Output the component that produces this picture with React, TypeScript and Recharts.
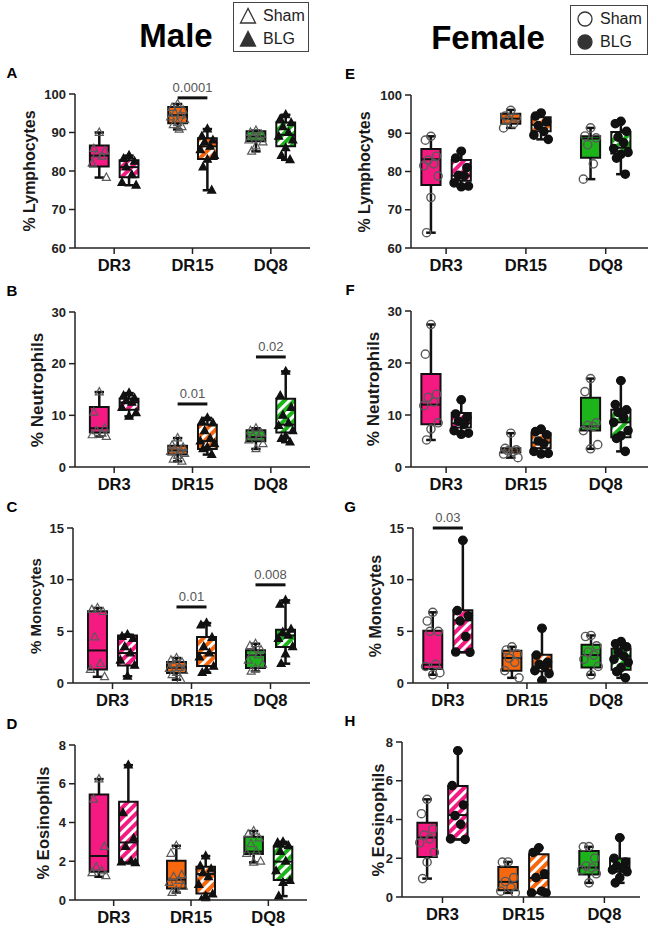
import React from 'react';
import { ComposedChart, XAxis, YAxis, Scatter, ReferenceArea, ReferenceLine } from 'recharts';

const genotypes = ['DR3', 'DR15', 'DQ8'];
const genotypeColors = ['#F41A82', '#F7680E', '#1DB41B'];

// box stats are [min, q1, median, q3, max]
// group order: DR3 Sham, DR3 BLG, DR15 Sham, DR15 BLG, DQ8 Sham, DQ8 BLG

// A - male lymphocytes
const lymphMaleBox = [
  [78.3, 81.2, 84.0, 86.6, 90.0],
  [76.3, 78.4, 81.0, 82.8, 84.0],
  [90.8, 92.4, 94.5, 96.6, 97.4],
  [75.0, 83.1, 86.4, 88.5, 90.9],
  [85.1, 87.7, 89.0, 90.3, 90.5],
  [82.9, 86.4, 89.4, 92.6, 94.6],
];
const lymphMalePts = [
  [90.0, 85.8, 85.2, 84.3, 83.8, 82.0, 78.3],
  [84.0, 83.2, 82.5, 81.0, 79.0, 77.0, 76.3],
  [97.4, 96.5, 95.8, 95.0, 94.5, 94.0, 93.3, 92.5, 92.0, 91.5, 90.8],
  [90.9, 89.0, 88.0, 87.5, 86.4, 85.5, 84.0, 83.0, 81.0, 75.0],
  [90.5, 90.0, 89.5, 89.0, 88.8, 88.0, 87.5, 86.5, 85.1],
  [94.6, 93.5, 92.5, 91.5, 90.0, 89.0, 88.0, 86.0, 84.0, 82.9],
];
const lymphMaleSig = [{ genotype: 1, y: 99, label: '0.0001' }];

// B - male neutrophils
const neutroMaleBox = [
  [5.9, 6.7, 7.5, 11.6, 14.5],
  [9.8, 11.1, 12.5, 13.2, 14.3],
  [1.1, 2.4, 3.2, 4.1, 5.6],
  [2.4, 3.5, 5.0, 8.2, 9.5],
  [3.5, 5.0, 5.8, 7.1, 7.5],
  [4.8, 6.7, 8.2, 13.2, 18.5],
];
const neutroMalePts = [
  [14.5, 10.6, 7.5, 7.0, 6.5, 6.2, 5.9],
  [14.3, 13.8, 13.3, 12.8, 12.5, 11.5, 10.5, 9.8],
  [5.6, 4.2, 3.8, 3.5, 3.2, 3.0, 2.6, 2.2, 1.5, 1.1],
  [9.5, 8.8, 8.5, 7.0, 5.5, 5.0, 4.5, 3.8, 3.5, 2.4],
  [7.5, 7.0, 6.5, 6.0, 5.8, 5.2, 4.5, 3.5],
  [18.5, 13.8, 11.5, 10.0, 8.5, 8.0, 7.0, 6.0, 5.5, 4.8],
];
const neutroMaleSig = [
  { genotype: 1, y: 12.2, label: '0.01' },
  { genotype: 2, y: 21.3, label: '0.02' },
];

// C - male monocytes
const monoMaleBox = [
  [0.6, 1.3, 3.15, 6.95, 7.26],
  [0.65, 1.7, 2.9, 4.6, 4.68],
  [0.32, 0.97, 1.48, 2.03, 2.42],
  [1.0, 1.65, 2.9, 4.45, 5.8],
  [1.13, 1.45, 2.7, 3.16, 3.8],
  [1.87, 3.48, 4.6, 5.16, 8.0],
];
const monoMalePts = [
  [7.26, 7.1, 6.9, 4.45, 1.87, 1.3, 0.6],
  [4.68, 4.5, 4.3, 3.5, 2.9, 2.2, 1.7, 0.65],
  [2.42, 2.2, 2.0, 1.8, 1.5, 1.4, 1.2, 1.0, 0.8, 0.32],
  [5.8, 5.6, 4.4, 3.5, 2.9, 2.5, 1.6, 1.2, 1.0],
  [3.8, 3.6, 3.2, 3.0, 2.7, 2.2, 1.8, 1.4, 1.13],
  [8.0, 7.6, 5.2, 4.9, 4.6, 4.3, 3.5, 2.8, 1.87],
];
const monoMaleSig = [
  { genotype: 1, y: 7.36, label: '0.01' },
  { genotype: 2, y: 9.5, label: '0.008' },
];

// D - male eosinophils
const eosMaleBox = [
  [1.2, 1.46, 2.27, 5.45, 6.24],
  [1.92, 1.92, 2.97, 5.07, 6.96],
  [0.38, 0.6, 1.05, 2.03, 2.8],
  [0.0, 0.34, 1.34, 1.72, 2.27],
  [1.94, 2.37, 2.5, 3.26, 3.56],
  [0.2, 1.03, 1.98, 2.75, 3.0],
];
const eosMalePts = [
  [6.24, 5.2, 2.75, 1.7, 1.5, 1.4, 1.25],
  [6.96, 4.5, 3.18, 2.75, 2.0, 1.95, 1.92],
  [2.8, 2.4, 1.3, 1.2, 1.0, 0.9, 0.7, 0.5, 0.38],
  [2.27, 1.75, 1.6, 1.4, 1.2, 0.8, 0.3, 0.2, 0.0],
  [3.56, 3.4, 3.2, 2.9, 2.5, 2.4, 2.0, 1.94],
  [3.0, 2.95, 2.8, 2.5, 2.0, 1.5, 1.0, 0.9, 0.2],
];

// E - female lymphocytes
const lymphFemaleBox = [
  [64.0, 76.5, 83.2, 85.9, 89.2],
  [76.0, 77.6, 78.9, 83.0, 85.3],
  [91.4, 92.5, 93.8, 95.1, 96.1],
  [88.4, 90.5, 92.2, 94.2, 95.3],
  [78.0, 83.6, 88.6, 89.2, 91.4],
  [79.3, 84.7, 86.2, 90.3, 93.1],
];
const lymphFemalePts = [
  [89.2, 88.2, 84.0, 83.0, 82.0, 81.5, 78.8, 73.2, 64.0],
  [85.3, 83.5, 81.0, 79.0, 78.9, 77.0, 76.2, 76.0],
  [96.0, 94.5, 94.0, 93.5, 92.5, 91.4],
  [95.3, 94.5, 93.0, 92.0, 90.5, 89.5, 88.4],
  [91.4, 89.3, 88.8, 87.0, 82.0, 78.0],
  [93.1, 92.5, 90.5, 89.0, 87.5, 86.0, 85.0, 84.5, 83.5, 79.3],
];

// F - female neutrophils
const neutroFemaleBox = [
  [5.2, 8.2, 12.0, 17.9, 27.4],
  [6.3, 7.6, 8.4, 10.4, 12.9],
  [1.8, 2.8, 3.2, 3.6, 6.5],
  [2.5, 3.6, 4.7, 6.5, 7.3],
  [3.5, 7.0, 7.8, 13.3, 17.0],
  [3.0, 5.7, 8.6, 11.0, 16.6],
];
const neutroFemalePts = [
  [27.4, 21.7, 14.0, 13.4, 12.5, 11.8, 8.5, 7.3, 5.2],
  [12.9, 10.2, 9.5, 8.8, 8.2, 7.0, 6.5, 6.3],
  [6.5, 3.6, 3.3, 3.1, 3.0, 2.5, 1.8],
  [7.3, 6.8, 6.2, 5.0, 4.5, 3.0, 2.6, 2.5],
  [17.0, 14.5, 8.5, 8.0, 7.8, 7.0, 4.3, 3.5],
  [16.6, 12.0, 11.0, 10.5, 9.5, 8.6, 7.0, 6.0, 5.5, 3.0],
];

// G - female monocytes
const monoFemaleBox = [
  [0.8, 1.35, 1.77, 5.06, 6.84],
  [2.97, 2.97, 6.06, 7.03, 13.8],
  [0.5, 1.19, 2.42, 3.13, 3.5],
  [0.26, 1.13, 1.6, 2.74, 5.3],
  [0.8, 1.5, 2.7, 3.7, 4.6],
  [0.5, 1.29, 2.6, 3.32, 4.0],
];
const monoFemalePts = [
  [6.84, 6.0, 5.0, 5.0, 1.8, 1.6, 1.0, 0.8],
  [13.8, 7.0, 6.5, 6.0, 4.5, 3.0, 2.97],
  [3.5, 3.2, 2.8, 2.4, 2.0, 1.2, 0.5],
  [5.3, 2.7, 2.0, 1.8, 1.6, 1.2, 0.9, 0.26],
  [4.6, 4.5, 3.6, 3.0, 2.7, 2.3, 1.6, 0.8],
  [4.0, 3.8, 3.5, 3.0, 2.6, 2.3, 2.0, 1.5, 1.1, 0.5],
];
const monoFemaleSig = [{ genotype: 0, y: 15, label: '0.03' }];

// H - female eosinophils
const eosFemaleBox = [
  [0.95, 2.07, 3.07, 3.83, 5.04],
  [2.97, 2.97, 4.23, 5.73, 7.55],
  [0.21, 0.35, 0.78, 1.55, 1.81],
  [0.21, 0.21, 0.98, 2.21, 2.54],
  [0.73, 1.16, 1.52, 2.37, 2.59],
  [0.73, 1.3, 1.55, 1.99, 3.06],
];
const eosFemalePts = [
  [5.04, 4.3, 3.5, 3.2, 3.0, 2.8, 2.3, 1.8, 0.95],
  [7.55, 5.75, 4.75, 4.2, 3.75, 3.0, 2.97],
  [1.81, 1.8, 1.0, 0.8, 0.5, 0.3, 0.21],
  [2.54, 2.3, 1.2, 1.0, 0.3, 0.21, 0.21],
  [2.6, 2.59, 2.0, 1.6, 1.5, 1.4, 1.2, 0.73],
  [3.06, 2.0, 1.8, 1.6, 1.5, 1.4, 1.3, 1.0, 0.73],
];

const lymphTicks = [60, 70, 80, 90, 100];
const neutroTicks = [0, 10, 20, 30];
const monoTicks = [0, 5, 10, 15];
const eosTicks = [0, 2, 4, 6, 8];

const FONT = 'Arial, "Liberation Sans", Helvetica, sans-serif';
const BOX_OFFSET = 0.19;
const BOX_HALF = 0.12;
const CAP_HALF = 0.06;
// horizontal spread of the dots inside a box, so equal values don't sit on top of each other
const spread = [0, -0.07, 0.07, -0.035, 0.035, -0.09, 0.09, 0, -0.055, 0.055, 0.02];

type Sig = { genotype: number; y: number; label: string };
type Layout = {
  left: number; axisX: number; yTop: number; yBottom: number; right: number;
  xDomain: [number, number]; labelX: number; labelSize: number;
};

const Marker = ({ cx, cy, kind, filled }: any) => {
  if (cx == null || cy == null) return null;
  const fill = filled ? '#111' : 'none';
  const stroke = filled ? '#111' : '#5a5a5a';
  if (kind === 'tri') {
    return (
      <polygon
        points={`${cx},${cy - 4.5} ${cx - 4},${cy + 2.8} ${cx + 4},${cy + 2.8}`}
        fill={fill} stroke={stroke} strokeWidth={1.2}
      />
    );
  }
  return <circle cx={cx} cy={cy} r={4.1} fill={fill} stroke={stroke} strokeWidth={1.4} />;
};

const groupX = (g: number) => Math.floor(g / 2) + 0.5 + (g % 2 === 0 ? -BOX_OFFSET : BOX_OFFSET);

const BoxPanel = ({ letter, yLabel, box, pts, sig, ticks, kind, layout }: {
  letter: string; yLabel: string; box: number[][]; pts: number[][]; sig: Sig[];
  ticks: number[]; kind: string; layout: Layout;
}) => {
  const padTop = 40;
  const xh = 34;
  const yw = 40;
  const width = layout.right - layout.left + 4;
  const height = layout.yBottom - layout.yTop + padTop + xh;

  const shamData: { x: number; y: number }[] = [];
  const blgData: { x: number; y: number }[] = [];
  pts.forEach((vals, g) => {
    vals.forEach((v, k) => {
      const p = { x: groupX(g) + spread[k % spread.length], y: v };
      if (g % 2 === 0) shamData.push(p); else blgData.push(p);
    });
  });

  const elements: React.ReactNode[] = [];
  box.forEach(([mn, q1, med, q3, mx], g) => {
    const c = groupX(g);
    const gi = Math.floor(g / 2);
    const fill = g % 2 === 0 ? genotypeColors[gi] : `url(#hatch-${gi})`;
    elements.push(
      <ReferenceArea key={`b${g}`} x1={c - BOX_HALF} x2={c + BOX_HALF} y1={q1} y2={q3}
        fill={fill} fillOpacity={1} stroke="#111" strokeWidth={2} ifOverflow="visible" />
    );
  });
  box.forEach(([mn, q1, med, q3, mx], g) => {
    const c = groupX(g);
    const seg = (k: string, a: [number, number], b: [number, number], w: number) => (
      <ReferenceLine key={`${k}${g}`} segment={[{ x: a[0], y: a[1] }, { x: b[0], y: b[1] }]}
        stroke="#111" strokeWidth={w} ifOverflow="visible" />
    );
    elements.push(seg('m', [c - BOX_HALF, med], [c + BOX_HALF, med], 2));
    elements.push(seg('u', [c, q3], [c, mx], 2.5));
    elements.push(seg('l', [c, mn], [c, q1], 2.5));
    elements.push(seg('tc', [c - CAP_HALF, mx], [c + CAP_HALF, mx], 2.5));
    elements.push(seg('bc', [c - CAP_HALF, mn], [c + CAP_HALF, mn], 2.5));
  });
  sig.forEach((s, i) => {
    elements.push(
      <ReferenceLine key={`s${i}`}
        segment={[{ x: s.genotype + 0.5 - BOX_OFFSET, y: s.y }, { x: s.genotype + 0.5 + BOX_OFFSET, y: s.y }]}
        stroke="#111" strokeWidth={3} ifOverflow="visible"
        label={{ value: s.label, position: 'top', offset: 6, fill: '#555', fontSize: 13, fontFamily: FONT }} />
    );
  });

  const plotMid = (layout.yTop + layout.yBottom) / 2;

  return (
    <>
      <div style={{ position: 'absolute', left: layout.left, top: layout.yTop - padTop }}>
        <ComposedChart width={width} height={height}
          margin={{ top: padTop, right: 4, bottom: 0, left: layout.axisX - layout.left - yw }}>
          <XAxis type="number" dataKey="x" domain={layout.xDomain} ticks={[0.5, 1.5, 2.5]}
            allowDataOverflow interval={0} height={xh}
            tickFormatter={(v: number) => genotypes[Math.floor(v)]}
            axisLine={{ stroke: '#222', strokeWidth: 1.5 }} tickLine={{ stroke: '#222', strokeWidth: 1.5 }}
            tickSize={6} tickMargin={5}
            tick={{ fill: '#111', fontSize: 16.5, fontWeight: 700, fontFamily: FONT }} />
          <YAxis type="number" dataKey="y" domain={[ticks[0], ticks[ticks.length - 1]]} ticks={ticks}
            allowDataOverflow interval={0} width={yw}
            axisLine={{ stroke: '#222', strokeWidth: 1.5 }} tickLine={{ stroke: '#222', strokeWidth: 1.5 }}
            tickSize={6} tickMargin={3}
            tick={{ fill: '#222', fontSize: 13, fontWeight: 700, fontFamily: FONT }} />
          {elements}
          <Scatter name="Sham" data={shamData} isAnimationActive={false}
            shape={(p: any) => <Marker cx={p.cx} cy={p.cy} kind={kind} filled={false} />} />
          <Scatter name="BLG" data={blgData} isAnimationActive={false}
            shape={(p: any) => <Marker cx={p.cx} cy={p.cy} kind={kind} filled />} />
        </ComposedChart>
      </div>
      <div style={{
        position: 'absolute', left: layout.labelX, top: plotMid, transform: 'translate(-50%, -50%) rotate(-90deg)',
        whiteSpace: 'nowrap', fontFamily: FONT, fontWeight: 700, fontSize: layout.labelSize, color: '#1a1a1a', lineHeight: 1,
      }}>{yLabel}</div>
      <div style={{
        position: 'absolute', left: layout.left + (layout.left === 0 ? 12 : 25), top: layout.yTop - 22,
        transform: 'translate(-50%, -50%)', fontFamily: FONT, fontWeight: 700, fontSize: 15, lineHeight: 1,
      }}>{letter}</div>
    </>
  );
};

const LegendBox = ({ left, top, width, height, kind }: any) => (
  <div style={{
    position: 'absolute', left, top, width, height, boxSizing: 'border-box',
    border: '1px solid #444', fontFamily: FONT, fontSize: 16, color: '#222',
  }}>
    {['Sham', 'BLG'].map((name, i) => (
      <div key={name} style={{ position: 'absolute', left: 5, top: i === 0 ? 4 : 27, height: 18, display: 'flex', alignItems: 'center' }}>
        <svg width={18} height={18} style={{ marginRight: 6 }}>
          {kind === 'tri'
            ? <polygon points="9,1.5 1.5,16 16.5,16" fill={i === 0 ? '#fff' : '#333'} stroke="#333" strokeWidth={1.3} />
            : <circle cx={9} cy={9} r={7} fill={i === 0 ? '#fff' : '#333'} stroke="#333" strokeWidth={1.3} />}
        </svg>
        <span>{name}</span>
      </div>
    ))}
  </div>
);

const leftCol = (axisX: number, yTop: number, yBottom: number, right: number, labelX: number, labelSize: number): Layout => ({
  left: 0, axisX, yTop, yBottom, right, xDomain: [0, 3], labelX, labelSize,
});
const rightCol = (axisX: number, yTop: number, yBottom: number, right: number, xDomain: [number, number], labelX: number, labelSize: number): Layout => ({
  left: 325, axisX, yTop, yBottom, right, xDomain, labelX, labelSize,
});

export default function App() {
  return (
    <div style={{ position: 'absolute', left: 0, top: 0, width: 649, height: 927, background: '#fff', overflow: 'hidden' }}>
      <svg width={0} height={0} style={{ position: 'absolute' }}>
        <defs>
          {genotypeColors.map((col, i) => (
            <pattern key={i} id={`hatch-${i}`} patternUnits="userSpaceOnUse" width={7} height={7} patternTransform="rotate(45)">
              <rect width={7} height={7} fill={col} />
              <rect width={3} height={7} fill="#fff" />
            </pattern>
          ))}
        </defs>
      </svg>

      <div style={{ position: 'absolute', left: 176, top: 35, transform: 'translate(-50%, -50%)', fontFamily: FONT, fontWeight: 700, fontSize: 33, lineHeight: 1 }}>Male</div>
      <div style={{ position: 'absolute', left: 488, top: 37, transform: 'translate(-50%, -50%)', fontFamily: FONT, fontWeight: 700, fontSize: 33, lineHeight: 1 }}>Female</div>
      <LegendBox left={233} top={2} width={76} height={50} kind="tri" />
      <LegendBox left={570} top={5} width={78} height={50} kind="circle" />

      <BoxPanel letter="A" yLabel="% Lymphocytes" box={lymphMaleBox} pts={lymphMalePts} sig={lymphMaleSig}
        ticks={lymphTicks} kind="tri" layout={leftCol(75, 94, 248, 310, 30, 16)} />
      <BoxPanel letter="B" yLabel="% Neutrophils" box={neutroMaleBox} pts={neutroMalePts} sig={neutroMaleSig}
        ticks={neutroTicks} kind="tri" layout={leftCol(75, 312, 467, 310, 37, 17)} />
      <BoxPanel letter="C" yLabel="% Monocytes" box={monoMaleBox} pts={monoMalePts} sig={monoMaleSig}
        ticks={monoTicks} kind="tri" layout={leftCol(73, 528, 683, 310, 35, 15)} />
      <BoxPanel letter="D" yLabel="% Eosinophils" box={eosMaleBox} pts={eosMalePts} sig={[]}
        ticks={eosTicks} kind="tri" layout={leftCol(75, 745, 900, 307, 43, 16.5)} />

      <BoxPanel letter="E" yLabel="% Lymphocytes" box={lymphFemaleBox} pts={lymphFemalePts} sig={[]}
        ticks={lymphTicks} kind="circle" layout={rightCol(411, 95, 248, 648, [0.06, 3.03], 365, 16)} />
      <BoxPanel letter="F" yLabel="% Neutrophils" box={neutroFemaleBox} pts={neutroFemalePts} sig={[]}
        ticks={neutroTicks} kind="circle" layout={rightCol(411, 311, 467, 648, [0.06, 3.03], 373, 17)} />
      <BoxPanel letter="G" yLabel="% Monocytes" box={monoFemaleBox} pts={monoFemalePts} sig={monoFemaleSig}
        ticks={monoTicks} kind="circle" layout={rightCol(413, 528, 683, 648, [0.06, 3.03], 376, 16)} />
      <BoxPanel letter="H" yLabel="% Eosinophils" box={eosFemaleBox} pts={eosFemalePts} sig={[]}
        ticks={eosTicks} kind="circle" layout={rightCol(402, 742, 897, 640, [0, 2.94], 378, 16.5)} />
    </div>
  );
}
